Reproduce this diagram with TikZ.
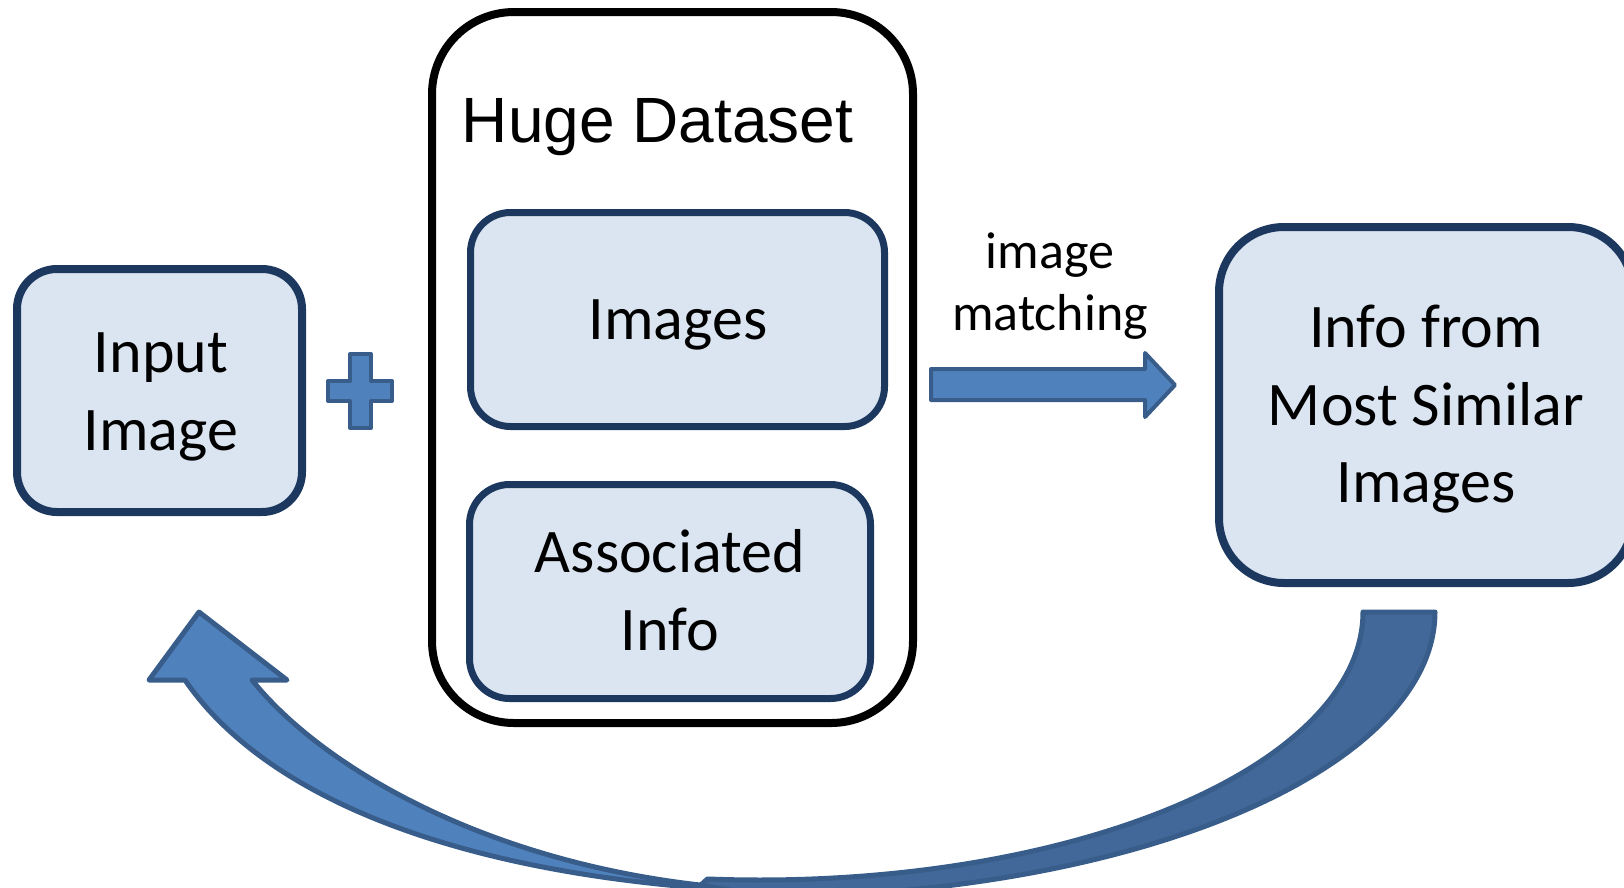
\documentclass[tikz,border=0pt]{standalone}
\usepackage{fontspec}
\setmainfont{Carlito}
\newfontfamily\arialfont{Liberation Sans}
\definecolor{boxfill}{RGB}{219,229,241}
\definecolor{boxline}{RGB}{28,56,94}
\definecolor{arrfill}{RGB}{79,129,189}
\definecolor{arrdark}{RGB}{65,104,152}
\definecolor{arrline}{RGB}{56,93,138}
\begin{document}
\begin{tikzpicture}[x=1pt,y=-1pt,
  bluebox/.style={draw=boxline, fill=boxfill, line width=7pt, rounded corners=40pt, inner sep=0pt, shape=rectangle},
  bigbox/.style={draw=black, fill=white, line width=8pt, rounded corners=82pt, inner sep=0pt, shape=rectangle},
  lbl/.style={anchor=base, inner sep=0pt, font=\fontsize{62}{74}\selectfont},
  blockarrow/.style={draw=arrline, fill=arrfill, line width=4pt, line join=round},
  curvearrow/.style={draw=arrline, line width=5pt, line join=round}]
\useasboundingbox (0,0) rectangle (1624,887);

% boxes
\node[bigbox, minimum width=481pt, minimum height=711pt] (huge) at (672.5,367.5) {};
\node[bluebox, line width=8pt, minimum width=285pt, minimum height=243pt] (input) at (159.5,390.5) {};
\node[bluebox, minimum width=414pt, minimum height=214pt] (images) at (677.5,319.5) {};
\node[bluebox, minimum width=401pt, minimum height=214pt] (assoc) at (670,591.5) {};
\node[bluebox, line width=8pt, rounded corners=65pt, minimum width=414pt, minimum height=356pt] (info) at (1426,405) {};

% texts
\node[anchor=base, inner sep=0pt, font=\arialfont\fontsize{64}{76}\selectfont] (hugeT) at (657.5,142) {Huge Dataset};
\node[lbl] (inputA) at (161,372) {Input};
\node[lbl] (inputB) at (161,450) {Image};
\node[lbl] (imagesT) at (678,339) {Images};
\node[lbl] (assocA) at (670,572) {Associated};
\node[lbl] (assocB) at (670,650) {Info};
\node[lbl] (infoA) at (1426,347) {Info from};
\node[lbl] (infoB) at (1426,425) {Most Similar};
\node[lbl] (infoC) at (1426,502) {Images};
\node[anchor=base, inner sep=0pt, font=\fontsize{52}{62}\selectfont] (matchA) at (1050,268) {image};
\node[anchor=base, inner sep=0pt, font=\fontsize{52}{62}\selectfont] (matchB) at (1050,330) {matching};

% plus sign
\filldraw[blockarrow] (350,354) -- (371,354) -- (371,381) -- (392,381) -- (392,401) -- (371,401)
  -- (371,428) -- (350,428) -- (350,401) -- (328,401) -- (328,381) -- (350,381) -- cycle;

% straight block arrow
\filldraw[blockarrow] (931,369) -- (1145,369) -- (1145,353) -- (1175,385) -- (1145,417)
  -- (1145,400) -- (931,400) -- cycle;

% curved arrow: back (dark) part, between two elliptical arcs
\filldraw[curvearrow, fill=arrdark] (1363,612) -- (1435,612)
  -- plot[smooth, samples=50, domain=0:96] ({760+675*cos(\x)}, {612+285*sin(\x)})
  -- plot[smooth, samples=50, domain=0:95] ({760+603*cos(95-\x)}, {612+268*sin(95-\x)})
  -- cycle;

% curved arrow: front (light) part with head
\filldraw[curvearrow, fill=arrfill] (199,612) -- (287,680) -- (252,680)
  .. controls (320,765) and (480,860) .. (700,885)
  -- (730,890)
  .. controls (440,872) and (260,790) .. (185,680)
  -- (149,680) -- cycle;
\end{tikzpicture}
\end{document}
